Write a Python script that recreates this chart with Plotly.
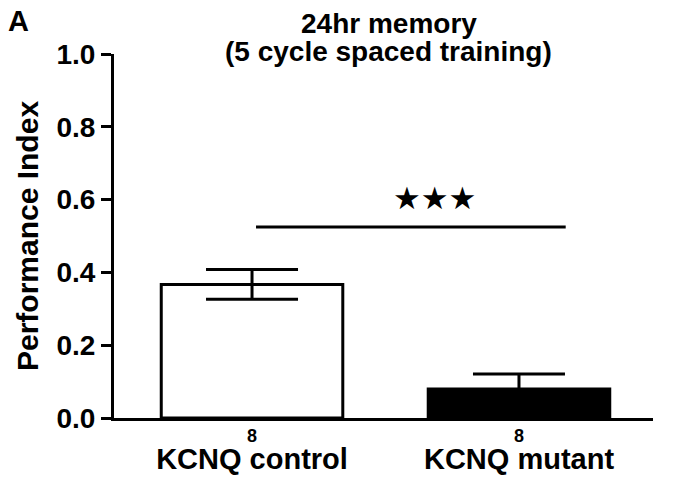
import plotly.graph_objects as go

# data
groups = ['KCNQ control', 'KCNQ mutant']
means = [0.367, 0.080]
sems = [0.041, 0.041]
n_flies = [8, 8]
bar_fill = ['white', 'black']

y_ticks = [0.0, 0.2, 0.4, 0.6, 0.8, 1.0]
title_lines = ['24hr memory', '(5 cycle spaced training)']
sig_x = [0.015, 1.175]
sig_y = 0.525
sig_label = '★★★'

FONT = 'Liberation Sans, Arial, sans-serif'

fig = go.Figure()
fig.add_trace(go.Bar(
    x=[0, 1], y=means, width=0.68,
    marker=dict(color=bar_fill, line=dict(color='black', width=3)),
    error_y=dict(type='data', array=sems, color='black', thickness=3, width=46),
    showlegend=False,
))

# significance bar + stars
fig.add_shape(type='line', xref='x', yref='y', x0=sig_x[0], x1=sig_x[1],
              y0=sig_y, y1=sig_y, line=dict(color='black', width=3))
fig.add_annotation(x=0.685, y=sig_y + 0.025, xref='x', yref='y', text=sig_label,
                   showarrow=False, yanchor='bottom',
                   font=dict(family='DejaVu Sans', size=31, color='black'))

# n per group under the axis
for i, n in enumerate(n_flies):
    fig.add_annotation(x=i, y=-0.016, xref='x', yref='paper', text=f'<b>{n}</b>',
                       showarrow=False, yanchor='top',
                       font=dict(family=FONT, size=18, color='black'))

# two-line title, placed by hand
for k, line in enumerate(title_lines):
    fig.add_annotation(x=0.51, y=1.084 - k * 0.077, xref='paper', yref='paper',
                       text=f'<b>{line}</b>', showarrow=False,
                       xanchor='center', yanchor='middle',
                       font=dict(family=FONT, size=28, color='black'))

fig.add_annotation(x=-0.2, y=1.14, xref='paper', yref='paper', text='<b>A</b>',
                   showarrow=False, xanchor='left', yanchor='top',
                   font=dict(family=FONT, size=29, color='black'))

fig.update_layout(
    width=676, height=484,
    margin=dict(l=114, r=23, t=54, b=66),
    plot_bgcolor='white', paper_bgcolor='white',
    font=dict(family=FONT, color='black'),
)
fig.update_xaxes(
    range=[-0.517, 1.502], tickvals=[0, 1],
    ticktext=[f'<b>{g}</b>' for g in groups],
    tickfont=dict(family=FONT, size=29), ticks='', ticklabelstandoff=13,
    showline=True, linecolor='black', linewidth=3, showgrid=False, zeroline=False,
    automargin=False,
)
fig.update_yaxes(
    range=[0, 1.0], tickvals=y_ticks,
    ticktext=[f'<b>{v:.1f}</b>' for v in y_ticks],
    tickfont=dict(family=FONT, size=28), ticks='outside', ticklen=10, tickwidth=3,
    tickcolor='black', showline=True, linecolor='black', linewidth=3,
    showgrid=False, zeroline=False, automargin=False,
    title=dict(text='<b>Performance Index</b>', font=dict(family=FONT, size=30), standoff=9),
)

fig.write_html('out.html', config={'displayModeBar': False},
               post_script="document.body.style.margin='0';")
